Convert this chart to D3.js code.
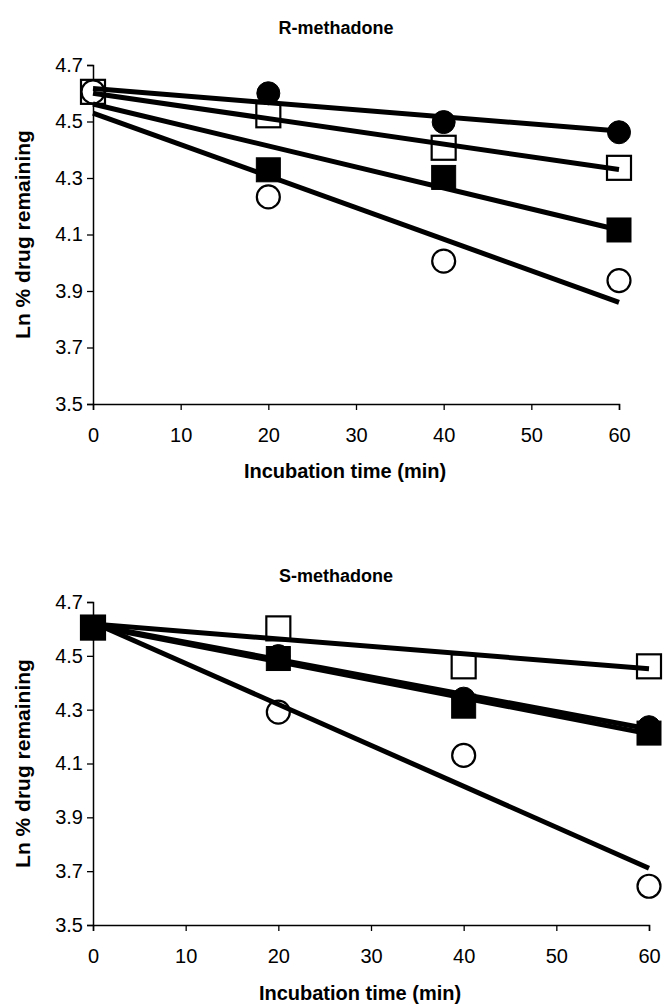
<!DOCTYPE html>
<html><head><meta charset="utf-8">
<script src="https://cdn.jsdelivr.net/npm/d3@7"></script>
<style>body{margin:0;background:#fff}svg{display:block}text{font-family:"Liberation Sans",Arial,sans-serif;fill:#000}</style>
</head><body><svg id="c" width="666" height="1007"></svg>
<script>
const times = [0, 20, 40, 60];
const fitTimes = [0, 60];
const xTicks = [0, 10, 20, 30, 40, 50, 60];
const yTicks = [3.5, 3.7, 3.9, 4.1, 4.3, 4.5, 4.7];

// R-methadone (symbols: filled circle, open square, filled square, open circle)
const rFilledCircle = [4.605, 4.600, 4.498, 4.462];
const rOpenSquare   = [4.605, 4.522, 4.407, 4.336];
const rFilledSquare = [4.605, 4.329, 4.302, 4.116];
const rOpenCircle   = [4.605, 4.233, 4.006, 3.937];
const rFitFilledCircle = [4.617, 4.466];
const rFitOpenSquare   = [4.600, 4.330];
const rFitFilledSquare = [4.562, 4.116];
const rFitOpenCircle   = [4.530, 3.860];

// S-methadone
const sFilledCircle = [4.605, 4.499, 4.341, 4.235];
const sOpenSquare   = [4.605, 4.602, 4.461, 4.461];
const sFilledSquare = [4.605, 4.490, 4.313, 4.213];
const sOpenCircle   = [4.605, 4.291, 4.130, 3.644];
const sFitFilledCircle = [4.615, 4.228];
const sFitOpenSquare   = [4.618, 4.452];
const sFitFilledSquare = [4.612, 4.210];
const sFitOpenCircle   = [4.624, 3.711];

const svg = d3.select("#c");

function drawChart(cfg) {
  const x = d3.scaleLinear().domain([0, 60]).range([cfg.x0, cfg.x1]);
  const y = d3.scaleLinear().domain([3.5, 4.7]).range([cfg.yBottom, cfg.yTop]);
  const g = svg.append("g");

  g.append("text").attr("x", cfg.titleX).attr("y", cfg.titleY)
    .attr("text-anchor", "middle").attr("font-size", 18).attr("font-weight", "bold").text(cfg.title);

  const ya = g.append("g").attr("transform", `translate(${cfg.x0},0)`)
    .call(d3.axisLeft(y).tickValues(yTicks).tickFormat(d3.format(".1f")).tickSizeOuter(0).tickSize(6).tickPadding(4));
  const xa = g.append("g").attr("transform", `translate(0,${cfg.yBottom})`)
    .call(d3.axisBottom(x).tickValues(xTicks).tickFormat(d3.format("d")).tickSizeOuter(0).tickSize(6).tickPadding(18));
  [ya, xa].forEach(a => {
    a.select(".domain").attr("stroke", "#000").attr("stroke-width", 1.5);
    a.selectAll(".tick line").attr("stroke", "#000").attr("stroke-width", 1.3);
    a.selectAll("text").attr("font-size", 20).attr("font-family", '"Liberation Sans",Arial,sans-serif');
  });

  g.append("text").attr("transform", `translate(${cfg.yTitleX},${(cfg.yTop + cfg.yBottom) / 2}) rotate(-90)`)
    .attr("text-anchor", "middle").attr("font-size", 21).attr("font-weight", "bold").text("Ln % drug remaining");
  g.append("text").attr("x", cfg.xTitleX).attr("y", cfg.xTitleY)
    .attr("text-anchor", "middle").attr("font-size", 20).attr("font-weight", "bold").text("Incubation time (min)");

  // markers
  cfg.series.forEach(s => {
    const pts = times.map((t, i) => ({t, v: s.values[i]}));
    const mg = g.append("g");
    if (s.shape === "circle") {
      mg.selectAll("circle").data(pts).join("circle")
        .attr("cx", d => x(d.t)).attr("cy", d => y(d.v)).attr("r", 11.5)
        .attr("fill", s.filled ? "#000" : "#fff").attr("stroke", "#000").attr("stroke-width", s.filled ? 1 : 2.2);
    } else {
      const h = 12;
      mg.selectAll("rect").data(pts).join("rect")
        .attr("x", d => x(d.t) - h).attr("y", d => y(d.v) - h).attr("width", 2 * h).attr("height", 2 * h)
        .attr("fill", s.filled ? "#000" : "#fff").attr("stroke", "#000").attr("stroke-width", s.filled ? 1 : 2.2);
    }
  });
  // fitted lines on top
  const line = d3.line().x(d => x(d.t)).y(d => y(d.v));
  cfg.fits.forEach(f => {
    g.append("path").datum(fitTimes.map((t, i) => ({t, v: f[i]})))
      .attr("d", line).attr("fill", "none").attr("stroke", "#000").attr("stroke-width", 5);
  });
}

drawChart({
  title: "R-methadone", titleX: 336, titleY: 34,
  x0: 93, x1: 619, yTop: 65, yBottom: 404, yTitleX: 30, xTitleX: 345, xTitleY: 478,
  series: [
    {values: rFilledSquare, shape: "square", filled: true},
    {values: rOpenSquare, shape: "square", filled: false},
    {values: rFilledCircle, shape: "circle", filled: true},
    {values: rOpenCircle, shape: "circle", filled: false}
  ],
  fits: [rFitFilledCircle, rFitOpenSquare, rFitFilledSquare, rFitOpenCircle]
});

drawChart({
  title: "S-methadone", titleX: 336, titleY: 582,
  x0: 93, x1: 649, yTop: 602, yBottom: 925, yTitleX: 30, xTitleX: 360, xTitleY: 1000,
  series: [
    {values: sOpenCircle, shape: "circle", filled: false},
    {values: sOpenSquare, shape: "square", filled: false},
    {values: sFilledCircle, shape: "circle", filled: true},
    {values: sFilledSquare, shape: "square", filled: true}
  ],
  fits: [sFitFilledCircle, sFitOpenSquare, sFitFilledSquare, sFitOpenCircle]
});
</script></body></html>
